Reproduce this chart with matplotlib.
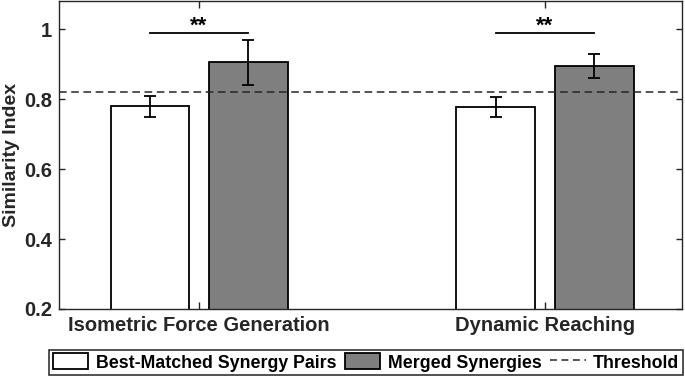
import matplotlib
matplotlib.use("Agg")
import matplotlib.pyplot as plt
import numpy as np
from matplotlib.patches import Patch
from matplotlib.lines import Line2D

plt.rcParams['font.family'] = ['Liberation Sans', 'DejaVu Sans']
plt.rcParams['font.weight'] = 'bold'
plt.rcParams['axes.labelweight'] = 'bold'

categories = ["Isometric Force Generation", "Dynamic Reaching"]
best_matched = [0.78, 0.777]
best_matched_err = [0.03, 0.028]
merged = [0.905, 0.894]
merged_err = [0.065, 0.035]
threshold = 0.82
sig_labels = ["**", "**"]
series_names = ["Best-Matched Synergy Pairs", "Merged Synergies", "Threshold"]

fig = plt.figure(figsize=(6.85, 3.78), dpi=100)
ax = fig.add_axes([59/685, 1-309/378, (682-59)/685, (309-1)/378])

x = np.arange(1, len(categories)+1)
w = 0.228
off = 0.142
txt = '#262626'
ax.bar(x-off, best_matched, w, bottom=0, color='white', edgecolor='black', linewidth=1.3, zorder=2)
ax.bar(x+off, merged, w, bottom=0, color='#7f7f7f', edgecolor='black', linewidth=1.3, zorder=2)
ax.errorbar(x-off, best_matched, yerr=best_matched_err, fmt='none', ecolor='black', elinewidth=1.3, capsize=4, capthick=1.3, zorder=3)
ax.errorbar(x+off, merged, yerr=merged_err, fmt='none', ecolor='black', elinewidth=1.3, capsize=4, capthick=1.3, zorder=3)
ax.axhline(threshold, color='#262626', linestyle=(0, (5, 3)), linewidth=1.1, zorder=4)

for xi, s in zip(x, sig_labels):
    ax.plot([xi-off, xi+off], [0.99, 0.99], color='black', linewidth=1.3, zorder=3)
    ax.text(xi, 0.978, s, ha='center', va='bottom', fontsize=16, color='black')

ax.set_xlim(0.595, 2.396)
ax.set_ylim(0.2, 1.08)
ax.set_xticks(x)
ax.set_xticklabels(categories, fontsize=14.5, color=txt)
ax.set_yticks([0.2, 0.4, 0.6, 0.8, 1.0])
ax.set_yticklabels(['0.2', '0.4', '0.6', '0.8', '1'], fontsize=14.5, color=txt)
ax.set_ylabel('Similarity Index', fontsize=14, color=txt, labelpad=3)
ax.tick_params(direction='in', top=True, right=True, length=4, width=1, colors=txt, pad=5)
ax.tick_params(axis='x', length=5)
for sp in ax.spines.values():
    sp.set_color('#262626')
    sp.set_linewidth(1)

handles = [Patch(facecolor='white', edgecolor='black', linewidth=1.3),
           Patch(facecolor='#7f7f7f', edgecolor='black', linewidth=1.3),
           Line2D([0], [0], color='#262626', linestyle=(0, (4.5, 3)), linewidth=1.1)]
leg = fig.legend(handles, series_names, loc='center', bbox_to_anchor=(366/685, 1-362.5/378),
                 ncol=3, fontsize=12.8, frameon=True, fancybox=False, edgecolor='black',
                 handlelength=2.0, handleheight=1.0, handletextpad=0.4, columnspacing=0.5,
                 borderpad=0.2, borderaxespad=0)
leg.get_frame().set_linewidth(1.2)

fig.savefig('out.png', dpi=100)
